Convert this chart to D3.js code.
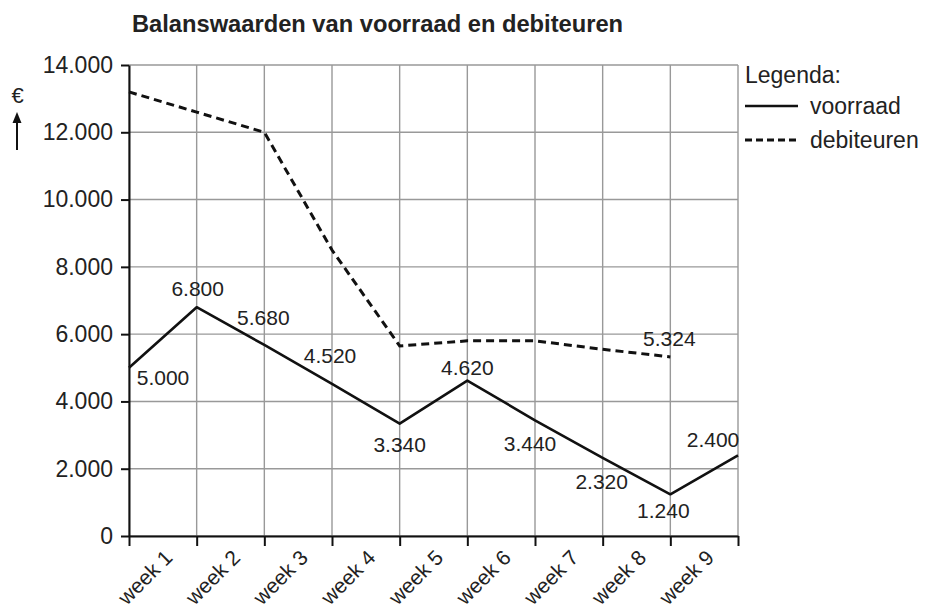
<!DOCTYPE html>
<html>
<head>
<meta charset="utf-8">
<script src="https://cdn.jsdelivr.net/npm/d3@7"></script>
<style>
  body { margin: 0; background: #fff; }
  svg { font-family: 'Liberation Sans', Arial, sans-serif; }
</style>
</head>
<body>
<div class="graph-container"></div>
<script>
// data
const weeks = ['week 1', 'week 2', 'week 3', 'week 4', 'week 5', 'week 6', 'week 7', 'week 8', 'week 9'];
// values at the week boundaries (start of week 1 ... end of week 9)
const voorraad = [5000, 6800, 5680, 4520, 3340, 4620, 3440, 2320, 1240, 2400];
const debiteuren = [13200, 12600, 12000, 8500, 5650, 5800, 5800, 5550, 5324];
const yTicks = [0, 2000, 4000, 6000, 8000, 10000, 12000, 14000];
// which points get a value label
const voorraadLabelled = [0, 1, 2, 3, 4, 5, 6, 7, 8, 9];
const debiteurenLabelled = [8];

// label placement (offset from point)
const voorraadOffsets = [[34, 17], [1, -11], [-1, -20], [-2, -21], [0, 28], [0, -6], [-5, 31], [-1, 31], [-7, 24], [-25, -8]];
const debiteurenOffsets = { 8: [-1, -11] };

// svg parameters
const w = 936;
const h = 612;
const plotLeft = 129;
const plotRight = 738;
const plotTop = 65;
const plotBottom = 536;

const svg = d3.select('.graph-container')
  .append('svg')
  .attr('width', w)
  .attr('height', h);

const nl = d3.formatLocale({ decimal: ',', thousands: '.', grouping: [3], currency: ['€ ', ''] });
const fmt = nl.format(',');

// scales
const x = d3.scaleLinear([0, weeks.length], [plotLeft, plotRight]);
const xBand = d3.scaleBand(weeks, [plotLeft, plotRight]);
const y = d3.scaleLinear([0, 14000], [plotBottom, plotTop]);

// grid
const grid = svg.append('g').attr('stroke', '#999').attr('stroke-width', 1.4);
grid.selectAll('line.h')
  .data(yTicks)
  .enter()
  .append('line')
  .attr('class', 'h')
  .attr('x1', plotLeft)
  .attr('x2', plotRight)
  .attr('y1', (d) => y(d))
  .attr('y2', (d) => y(d));
grid.selectAll('line.v')
  .data(d3.range(weeks.length + 1))
  .enter()
  .append('line')
  .attr('class', 'v')
  .attr('x1', (d) => x(d))
  .attr('x2', (d) => x(d))
  .attr('y1', plotTop)
  .attr('y2', plotBottom);

// y axis
const yAxis = svg.append('g')
  .attr('transform', `translate(${plotLeft},0)`)
  .call(d3.axisLeft(y).tickValues(yTicks).tickSize(8).tickSizeOuter(0)
    .tickPadding(8)
    .tickFormat(fmt));
yAxis.selectAll('text').style('font-size', '23px').attr('fill', '#222');
yAxis.selectAll('line, path').attr('stroke', '#111').attr('stroke-width', 2);

// x axis: ticks at the boundaries
const xAxis = svg.append('g')
  .attr('transform', `translate(0,${plotBottom})`)
  .call(d3.axisBottom(x).tickValues(d3.range(weeks.length + 1)).tickSize(10).tickSizeOuter(0)
    .tickFormat(''));
xAxis.selectAll('line, path').attr('stroke', '#111').attr('stroke-width', 2);

// x labels in the middle of each week
const xLabels = svg.append('g')
  .attr('transform', `translate(0,${plotBottom})`)
  .call(d3.axisBottom(xBand).tickSize(0).tickSizeOuter(0));
xLabels.select('.domain').remove();
xLabels.selectAll('text')
  .attr('x', 0)
  .attr('y', 0)
  .attr('dy', 0)
  .attr('text-anchor', 'end')
  .attr('transform', 'translate(11,23) rotate(-45)')
  .attr('fill', '#222')
  .style('font-size', '21px');

// lines
const line = d3.line()
  .x((d, i) => x(i))
  .y((d) => y(d));

svg.append('path')
  .datum(voorraad)
  .attr('d', line)
  .attr('fill', 'none')
  .attr('stroke', '#111')
  .attr('stroke-width', 2.6)
  .attr('stroke-linejoin', 'round');

svg.append('path')
  .datum(debiteuren)
  .attr('d', line)
  .attr('fill', 'none')
  .attr('stroke', '#111')
  .attr('stroke-width', 3)
  .attr('stroke-dasharray', '8,5');

// value labels
svg.append('g')
  .selectAll('text')
  .data(voorraadLabelled)
  .enter()
  .append('text')
  .attr('x', (i) => x(i) + voorraadOffsets[i][0])
  .attr('y', (i) => y(voorraad[i]) + voorraadOffsets[i][1])
  .attr('text-anchor', 'middle')
  .attr('fill', '#222')
  .style('font-size', '21px')
  .text((i) => fmt(voorraad[i]));

svg.append('g')
  .selectAll('text')
  .data(debiteurenLabelled)
  .enter()
  .append('text')
  .attr('x', (i) => x(i) + debiteurenOffsets[i][0])
  .attr('y', (i) => y(debiteuren[i]) + debiteurenOffsets[i][1])
  .attr('text-anchor', 'middle')
  .attr('fill', '#222')
  .style('font-size', '21px')
  .text((i) => fmt(debiteuren[i]));

// title
svg.append('text')
  .attr('x', 132)
  .attr('y', 32)
  .attr('fill', '#222')
  .style('font-size', '23.7px')
  .style('font-weight', 'bold')
  .text('Balanswaarden van voorraad en debiteuren');

// euro sign with arrow
svg.append('text')
  .attr('x', 17.5)
  .attr('y', 103)
  .attr('text-anchor', 'middle')
  .attr('fill', '#222')
  .style('font-size', '22px')
  .text('€');
svg.append('line')
  .attr('x1', 17).attr('x2', 17)
  .attr('y1', 150).attr('y2', 120)
  .attr('stroke', '#111').attr('stroke-width', 2);
svg.append('path')
  .attr('d', 'M17,112 L12.5,123 L21.5,123 Z')
  .attr('fill', '#111');

// legend
const legend = svg.append('g').attr('transform', 'translate(745,0)');
legend.append('text')
  .attr('x', 0).attr('y', 83)
  .attr('fill', '#222')
  .style('font-size', '23px')
  .text('Legenda:');
legend.append('line')
  .attr('x1', 0).attr('x2', 53).attr('y1', 106).attr('y2', 106)
  .attr('stroke', '#111').attr('stroke-width', 2.6);
legend.append('text')
  .attr('x', 65).attr('y', 114)
  .attr('fill', '#222')
  .style('font-size', '23px')
  .text('voorraad');
legend.append('line')
  .attr('x1', 0).attr('x2', 53).attr('y1', 140).attr('y2', 140)
  .attr('stroke', '#111').attr('stroke-width', 3)
  .attr('stroke-dasharray', '7,4');
legend.append('text')
  .attr('x', 65).attr('y', 148)
  .attr('fill', '#222')
  .style('font-size', '23px')
  .text('debiteuren');
</script>
</body>
</html>
